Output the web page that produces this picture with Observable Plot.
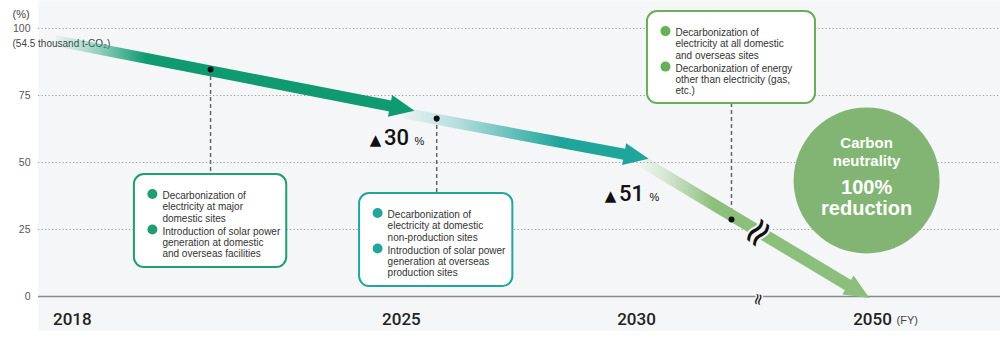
<!DOCTYPE html>
<html><head><meta charset="utf-8">
<script src="https://cdn.jsdelivr.net/npm/d3@7"></script>
<script src="https://cdn.jsdelivr.net/npm/@observablehq/plot@0.6"></script>
<style>
html,body{margin:0;padding:0;background:#fff;}
#chart svg{display:block;}
</style></head><body><div id="chart"></div>
<script>
// ---------------- data ----------------
const years = [2018, 2025, 2030, 2050];          // x tick labels (fiscal years)
const yTicks = [0, 25, 50, 75, 100];             // % of FY2018 emissions
const xBreakDomain = [2017.28, 2030, 2050, 2052.72]; // broken time axis (2030→2050 compressed)

// emission path arrows (start → end, in year / % units)
const arrowFromYear  = [2017.64, 2025.02, 2030.34];
const arrowFromValue = [95.5, 68.5, 50.7];
const arrowToYear    = [2024.82, 2029.80, 2048.14];
const arrowToValue   = [70.9, 52.9, 3.7];
const arrowColors    = ["#0f9b6f", "#20a59b", "#8cbf7b"];

// reduction labels
const reductionYears = [2025, 2030];
const reductionPct   = [30, 51];

// measures: milestone dots, leader ends and callout boxes
const milestoneYear  = [2020.94, 2025.75, 2038.05];
const milestoneValue = [84.7, 66.4, 28.7];
const boxX1     = [2019.32, 2024.11, 2030.93];
const boxX2     = [2022.56, 2027.37, 2045.17];
const boxTop    = [45.5, 38.4, 106.3];
const boxBottom = [10.8, 3.7, 72.0];
const leaderEnd = [45.5, 38.4, 72.0];
const boxColors = ["#1f9d73", "#22a59d", "#66b058"];
const boxItem1 = [
  "Decarbonization of\nelectricity at major\ndomestic sites",
  "Decarbonization of\nelectricity at domestic\nnon-production sites",
  "Decarbonization of\nelectricity at all domestic\nand overseas sites"
];
const boxItem2 = [
  "Introduction of solar power\ngeneration at domestic\nand overseas facilities",
  "Introduction of solar power\ngeneration at overseas\nproduction sites",
  "Decarbonization of energy\nother than electricity (gas,\netc.)"
];

// 2050 goal
const goalYear = 2049.5, goalValue = 43.3;
const goalTitle = "Carbon\nneutrality";
const goalText = "100%\nreduction";

// axis break
const breakYear = 2040.3, breakValue = 23.9;

// ---------------- chart ----------------
const bg = "#f5f6f8";
const idx = [0, 1, 2];
const marks = [
  Plot.frame({fill: bg, stroke: "none", insetTop: -28, insetBottom: -34}),
  Plot.ruleY(yTicks.filter(d => d > 0), {stroke: "#9c9c9c", strokeWidth: 1, strokeDasharray: "1.2,2.3"}),
  Plot.ruleY([0], {stroke: "#8a8a8a", strokeWidth: 1.5}),
  Plot.text(yTicks, {y: d => d, text: d => String(d), frameAnchor: "left", dx: -8, textAnchor: "end", fill: "#555", fontSize: 10.5}),
  Plot.text(["(%)"], {frameAnchor: "top-left", dx: -26, dy: -18, textAnchor: "start", fontSize: 11, fill: "#444"}),
  Plot.text(["(54.5 thousand t-CO₂)"], {frameAnchor: "top-left", dx: -26, dy: 11, textAnchor: "start", fontSize: 10, fill: "#444"}),
  // leaders
  Plot.ruleX(idx, {x: i => milestoneYear[i], y1: i => milestoneValue[i], y2: i => leaderEnd[i],
    stroke: "#666", strokeWidth: 1.5, strokeDasharray: "4,3"})
];
// arrows (drawn last-to-first so earlier heads overlap later tails)
[2, 1, 0].forEach(i => marks.push(Plot.link([i], {
  x1: d => arrowFromYear[d], y1: d => arrowFromValue[d],
  x2: d => arrowToYear[d], y2: d => arrowToValue[d],
  stroke: `url(#arrowGrad${i})`, strokeWidth: i === 2 ? 12 : 11, strokeLinecap: "butt"
})));
marks.push(
  Plot.dot(idx, {x: i => milestoneYear[i], y: i => milestoneValue[i], r: 3, fill: "#111"}),
  // callout boxes
  Plot.rect(idx, {x1: i => boxX1[i], x2: i => boxX2[i], y1: i => boxBottom[i], y2: i => boxTop[i],
    fill: "#fff", stroke: i => boxColors[i], strokeWidth: 2, rx: 10}),
  Plot.dot(idx, {x: i => boxX1[i], y: i => boxTop[i], dx: 18, dy: 19.5, r: 5, fill: i => boxColors[i]}),
  Plot.dot(idx, {x: i => boxX1[i], y: i => boxTop[i], dx: 18, dy: 55, r: 5, fill: i => boxColors[i]}),
  Plot.text(idx, {x: i => boxX1[i], y: i => boxTop[i], text: i => boxItem1[i], dx: 28, dy: 16.5,
    textAnchor: "start", lineAnchor: "top", lineHeight: 1.13, fontSize: 10, fill: "#333"}),
  Plot.text(idx, {x: i => boxX1[i], y: i => boxTop[i], text: i => boxItem2[i], dx: 28, dy: 52,
    textAnchor: "start", lineAnchor: "top", lineHeight: 1.13, fontSize: 10, fill: "#333"}),
  // reduction labels
  Plot.text([0, 1], {x: i => reductionYears[i], y: i => 100 - reductionPct[i], text: () => "▲", dx: -26, dy: 36,
    lineAnchor: "bottom", fontSize: 15, fontFamily: "DejaVu Sans", fill: "#111"}),
  Plot.text([0, 1], {x: i => reductionYears[i], y: i => 100 - reductionPct[i], text: i => String(reductionPct[i]), dx: -5, dy: 36,
    lineAnchor: "bottom", fontSize: 22, fontWeight: 500, fontFamily: "Roboto", fill: "#111"}),
  Plot.text([0, 1], {x: i => reductionYears[i], y: i => 100 - reductionPct[i], text: () => "%", dx: 18, dy: 36,
    lineAnchor: "bottom", fontSize: 11, fill: "#111"}),
  // goal circle
  Plot.dot([0], {x: () => goalYear, y: () => goalValue, r: 73, fill: "#82b574"}),
  Plot.text([goalTitle], {x: () => goalYear, y: () => goalValue, dy: -14, lineAnchor: "bottom", lineHeight: 1.2,
    fontSize: 15, fontWeight: "bold", fill: "#fff"}),
  Plot.text([goalText], {x: () => goalYear, y: () => goalValue, dy: 35, lineAnchor: "bottom", lineHeight: 1.05,
    fontSize: 20, fontWeight: "bold", fill: "#fff"}),
  // axis breaks
  Plot.text(["≈"], {x: () => breakYear, y: () => breakValue, rotate: -50, fontSize: 40, fontFamily: "DejaVu Sans",
    fill: "#111", stroke: bg, strokeWidth: 4, paintOrder: "stroke"}),
  Plot.text(["≈"], {x: () => breakYear, y: () => 0, dy: 3, rotate: -78, fontSize: 16, fontFamily: "DejaVu Sans",
    fill: "#111", stroke: bg, strokeWidth: 3, paintOrder: "stroke"}),
  // x labels
  Plot.text(years, {x: d => d, text: d => String(d), frameAnchor: "bottom", dy: 28, lineAnchor: "bottom", fontSize: 17, fontWeight: 500,
    fontFamily: "Roboto", fill: "#222"}),
  Plot.text([2050], {x: d => d, text: () => "(FY)", frameAnchor: "bottom", dx: 24, dy: 27, textAnchor: "start",
    lineAnchor: "bottom", fontSize: 11, fill: "#444"})
);

const plot = Plot.plot({
  width: 1000, height: 350,
  marginLeft: 38, marginRight: 0, marginTop: 28, marginBottom: 54,
  style: {fontFamily: "'Liberation Sans', Arial, sans-serif", background: "transparent", overflow: "visible"},
  x: {type: "linear", domain: xBreakDomain, range: [38, 636, 872, 1000], axis: null},
  y: {type: "linear", domain: [0, 100], range: [296, 28], axis: null},
  color: {type: "identity"},
  marks
});

// gradients + arrowheads
const svg = d3.select(plot);
const defs = svg.insert("defs", ":first-child");
const fadeEnd = [0.27, 0.7, 0.35];
arrowColors.forEach((c, i) => {
  const g = defs.append("linearGradient").attr("id", `arrowGrad${i}`)
    .attr("x1", 0).attr("x2", 1).attr("y1", 0).attr("y2", 0);
  g.append("stop").attr("offset", 0).attr("stop-color", c).attr("stop-opacity", 0.05);
  g.append("stop").attr("offset", fadeEnd[i] * 0.35).attr("stop-color", c).attr("stop-opacity", 0.3);
  g.append("stop").attr("offset", fadeEnd[i]).attr("stop-color", c).attr("stop-opacity", 1);
  g.append("stop").attr("offset", 1).attr("stop-color", c).attr("stop-opacity", 1);
  const m = defs.append("marker").attr("id", `arrowHead${i}`)
    .attr("markerUnits", "userSpaceOnUse").attr("orient", "auto")
    .attr("viewBox", "0 -15 30 30").attr("markerWidth", 30).attr("markerHeight", 30)
    .attr("refX", 3).attr("refY", 0).attr("overflow", "visible");
  m.append("path").attr("d", "M0,-11L25,0L0,11Z").attr("fill", c);
  svg.selectAll("path").filter(function() {
    const s = this.getAttribute("stroke") || (this.parentNode && this.parentNode.getAttribute("stroke"));
    return s === `url(#arrowGrad${i})`;
  }).attr("marker-end", `url(#arrowHead${i})`);
});

document.getElementById("chart").appendChild(plot);
</script>
</body></html>
